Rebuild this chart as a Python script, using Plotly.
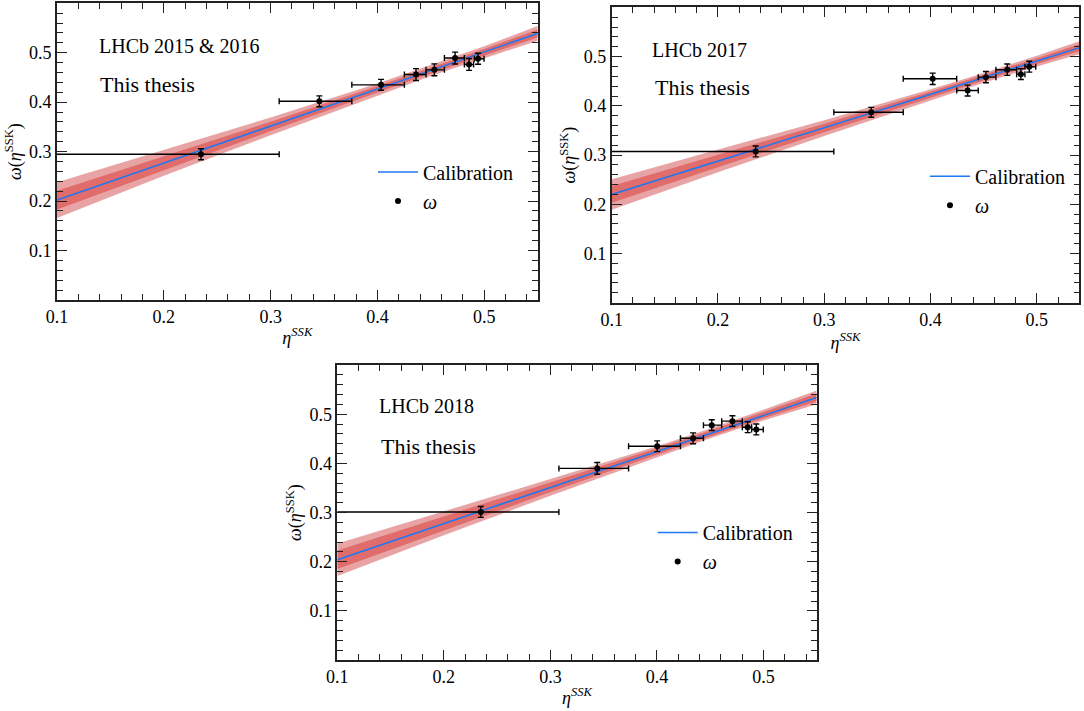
import plotly.graph_objects as go

# ---------------- data ----------------
# calibration band sample points (eta)
eta_band = [0.1, 0.2, 0.3, 0.4, 0.45, 0.5, 0.55]

# Panel 1: LHCb 2015 & 2016
p1_cal = [0.202, 0.277, 0.351, 0.426, 0.464, 0.501, 0.539]
p1_outer = [0.036, 0.026, 0.018, 0.012, 0.011, 0.012, 0.015]
p1_inner = [0.019, 0.014, 0.0095, 0.0065, 0.006, 0.0065, 0.008]
p1_eta = [0.2348, 0.3456, 0.4034, 0.4361, 0.4533, 0.4727, 0.4858, 0.4942]
p1_omega = [0.2947, 0.4018, 0.4350, 0.4559, 0.4654, 0.4892, 0.4762, 0.4878]
p1_eta_lo = [0.0, 0.308, 0.376, 0.4252, 0.4455, 0.4627, 0.4814, 0.4907]
p1_eta_hi = [0.308, 0.376, 0.4252, 0.4455, 0.4627, 0.4814, 0.4900, 0.4998]
p1_omega_err = [0.011, 0.011, 0.011, 0.012, 0.012, 0.012, 0.012, 0.011]

# Panel 2: LHCb 2017
p2_cal = [0.220, 0.288, 0.355, 0.423, 0.457, 0.491, 0.525]
p2_outer = [0.031, 0.023, 0.016, 0.011, 0.010, 0.011, 0.014]
p2_inner = [0.017, 0.0125, 0.0088, 0.006, 0.0055, 0.006, 0.0075]
p2_eta = [0.2355, 0.3442, 0.4020, 0.4349, 0.4521, 0.4722, 0.4850, 0.4929]
p2_omega = [0.3073, 0.3870, 0.4550, 0.4312, 0.4584, 0.4735, 0.4645, 0.4796]
p2_eta_lo = [0.0, 0.309, 0.3743, 0.4246, 0.4449, 0.4615, 0.4810, 0.4888]
p2_eta_hi = [0.309, 0.3743, 0.4246, 0.4449, 0.4615, 0.4810, 0.4888, 0.4990]
p2_omega_err = [0.011, 0.010, 0.0115, 0.011, 0.0115, 0.0115, 0.011, 0.011]

# Panel 3: LHCb 2018
p3_cal = [0.204, 0.278, 0.351, 0.424, 0.461, 0.498, 0.534]
p3_outer = [0.033, 0.024, 0.017, 0.011, 0.010, 0.011, 0.014]
p3_inner = [0.019, 0.014, 0.0095, 0.0065, 0.006, 0.0065, 0.008]
p3_eta = [0.2347, 0.3440, 0.4003, 0.4340, 0.4515, 0.4709, 0.4852, 0.4933]
p3_omega = [0.3012, 0.3898, 0.4348, 0.4510, 0.4777, 0.4859, 0.4736, 0.4690]
p3_eta_lo = [0.0, 0.308, 0.3734, 0.4221, 0.4437, 0.4608, 0.4802, 0.4889]
p3_eta_hi = [0.308, 0.3734, 0.4221, 0.4437, 0.4608, 0.4802, 0.4889, 0.4999]
p3_omega_err = [0.011, 0.012, 0.011, 0.011, 0.011, 0.011, 0.011, 0.011]

panel_titles = ["LHCb 2015 & 2016", "LHCb 2017", "LHCb 2018"]
x_ticks = [0.1, 0.2, 0.3, 0.4, 0.5]
y_ticks = [0.1, 0.2, 0.3, 0.4, 0.5]

# ---------------- style ----------------
FONT = "Liberation Serif"
OUTER_COL = "#e8a4a4"
INNER_COL = "#e06c6c"
LINE_COL = "#1f78f2"

panels = [
    dict(cal=p1_cal, outer=p1_outer, inner=p1_inner, eta=p1_eta, om=p1_omega,
         lo=p1_eta_lo, hi=p1_eta_hi, err=p1_omega_err,
         xd=[0.0526, 0.4960], yd=[0.5781, 0.9954], xr=[0.1, 0.55],
         leg=dict(x=0.3441, y=0.7855),
         ann=[(0.0826, 0.857), (0.086, 0.7246)]),
    dict(cal=p2_cal, outer=p2_outer, inner=p2_inner, eta=p2_eta, om=p2_omega,
         lo=p2_eta_lo, hi=p2_eta_hi, err=p2_omega_err,
         xd=[0.5643, 0.9957], yd=[0.5743, 0.9895], xr=[0.1, 0.54],
         leg=dict(x=0.8533, y=0.7795),
         ann=[(0.082, 0.857), (0.089, 0.73)]),
    dict(cal=p3_cal, outer=p3_outer, inner=p3_inner, eta=p3_eta, om=p3_omega,
         lo=p3_eta_lo, hi=p3_eta_hi, err=p3_omega_err,
         xd=[0.3112, 0.7534], yd=[0.0717, 0.4866], xr=[0.1, 0.55],
         leg=dict(x=0.6021, y=0.2785),
         ann=[(0.082, 0.86), (0.087, 0.7245)]),
]

fig = go.Figure()
layout = dict(
    width=1084, height=711,
    margin=dict(l=0, r=0, t=0, b=0),
    paper_bgcolor="white", plot_bgcolor="white",
    font=dict(family=FONT, size=18, color="black"),
    showlegend=True,
    annotations=[],
)

for i, p in enumerate(panels):
    n = i + 1
    xa = "x" if n == 1 else f"x{n}"
    ya = "y" if n == 1 else f"y{n}"
    legname = "legend" if n == 1 else f"legend{n}"

    outer_hi = [c + w for c, w in zip(p["cal"], p["outer"])]
    outer_lo = [c - w for c, w in zip(p["cal"], p["outer"])]
    inner_hi = [c + w for c, w in zip(p["cal"], p["inner"])]
    inner_lo = [c - w for c, w in zip(p["cal"], p["inner"])]

    fig.add_trace(go.Scatter(x=eta_band, y=outer_hi, xaxis=xa, yaxis=ya, mode="lines",
                             line=dict(width=0, color=OUTER_COL), showlegend=False, hoverinfo="skip"))
    fig.add_trace(go.Scatter(x=eta_band, y=outer_lo, xaxis=xa, yaxis=ya, mode="lines",
                             line=dict(width=0, color=OUTER_COL), fill="tonexty",
                             fillcolor=OUTER_COL, showlegend=False, hoverinfo="skip"))
    fig.add_trace(go.Scatter(x=eta_band, y=inner_hi, xaxis=xa, yaxis=ya, mode="lines",
                             line=dict(width=0, color=INNER_COL), showlegend=False, hoverinfo="skip"))
    fig.add_trace(go.Scatter(x=eta_band, y=inner_lo, xaxis=xa, yaxis=ya, mode="lines",
                             line=dict(width=0, color=INNER_COL), fill="tonexty",
                             fillcolor=INNER_COL, showlegend=False, hoverinfo="skip"))
    fig.add_trace(go.Scatter(x=eta_band, y=p["cal"], xaxis=xa, yaxis=ya, mode="lines",
                             line=dict(width=1.6, color=LINE_COL), name="Calibration",
                             legend=legname, legendgroup=f"cal{n}"))
    fig.add_trace(go.Scatter(
        x=p["eta"], y=p["om"], xaxis=xa, yaxis=ya, mode="markers",
        marker=dict(color="black", size=6),
        error_x=dict(type="data", symmetric=False,
                     array=[h - e for h, e in zip(p["hi"], p["eta"])],
                     arrayminus=[e - l for e, l in zip(p["eta"], p["lo"])],
                     color="black", thickness=1.4, width=3),
        error_y=dict(type="data", array=p["err"], color="black", thickness=1.4, width=3),
        name="<i>ω</i>", legend=legname, legendgroup=f"om{n}"))

    axcommon = dict(showgrid=False, zeroline=False, showline=True, linecolor="#222",
                    linewidth=1.6, mirror="allticks", ticks="inside", ticklen=10,
                    tickwidth=1.3, tickcolor="#222", automargin=False,
                    tickfont=dict(family=FONT, size=18, color="black"),
                    minor=dict(ticks="inside", ticklen=6, tickwidth=1.1, tickcolor="#222",
                               tickmode="linear", tick0=0, dtick=0.02, showgrid=False))
    layout["xaxis" if n == 1 else f"xaxis{n}"] = dict(
        axcommon, domain=p["xd"], range=p["xr"], anchor=ya,
        tickmode="array", tickvals=x_ticks, ticktext=[f"{v:.1f}" for v in x_ticks],
        title=dict(text="<i>η<sup>SSK</sup></i>", font=dict(family=FONT, size=18), standoff=5))
    layout["yaxis" if n == 1 else f"yaxis{n}"] = dict(
        axcommon, domain=p["yd"], range=[0, 0.6], anchor=xa,
        tickmode="array", tickvals=y_ticks, ticktext=[f"{v:.1f}" for v in y_ticks],
        title=dict(text="<i>ω</i>(<i>η</i><sup>SSK</sup>)", font=dict(family=FONT, size=18), standoff=3))
    layout[legname] = dict(x=p["leg"]["x"], y=p["leg"]["y"], xanchor="left", yanchor="top",
                           bgcolor="rgba(0,0,0,0)", borderwidth=0, itemwidth=40,
                           tracegroupgap=0, font=dict(family=FONT, size=20, color="black"))
    (ax1, ay1), (ax2, ay2) = p["ann"]
    layout["annotations"].append(dict(text=panel_titles[i], xref=f"{xa} domain", yref=f"{ya} domain",
                                      x=ax1, y=ay1, xanchor="left", yanchor="middle", showarrow=False,
                                      font=dict(family=FONT, size=20, color="black")))
    layout["annotations"].append(dict(text="This thesis", xref=f"{xa} domain", yref=f"{ya} domain",
                                      x=ax2, y=ay2, xanchor="left", yanchor="middle", showarrow=False,
                                      font=dict(family=FONT, size=22, color="black")))

fig.update_layout(**layout)
fig.write_html("out.html")
